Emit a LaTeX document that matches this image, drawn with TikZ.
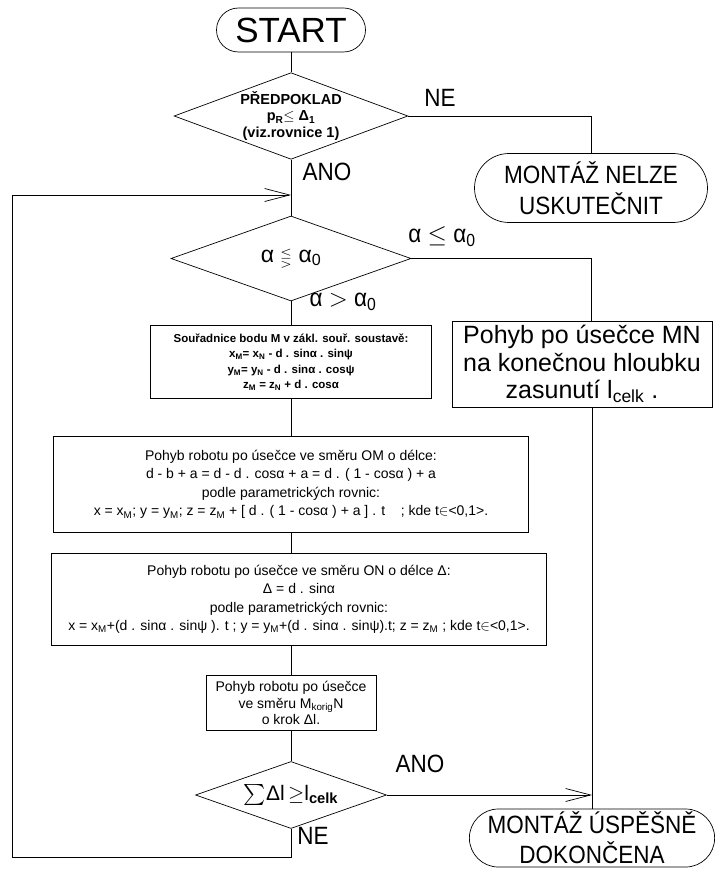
\documentclass[tikz,border=0pt]{standalone}
\usepackage{fontspec}
\setmainfont{Liberation Sans}
\newfontfamily\narrowfont[FakeStretch=0.9]{Liberation Sans}
\usepackage{amssymb}
\usetikzlibrary{shapes.geometric,shapes.misc,positioning,arrows.meta}
\newcommand{\fsz}[2]{\fontsize{#1}{#2}\selectfont}

\begin{document}
\begin{tikzpicture}[x=1pt,y=-1pt,line width=0.7pt,
		term/.style={draw,rounded rectangle,align=center,inner sep=2pt},
		test/.style={draw,diamond,aspect=2.7,inner sep=0pt,align=center},
		box/.style={draw,rectangle,align=center,inner sep=3pt},
		lab/.style={font=\narrowfont\fsz{25}{27}},
		barb/.style={-{Straight Barb[length=25pt,width=13pt]}}]
	\useasboundingbox (0,0) rectangle (726,869);
	\node[term,minimum width=153pt,minimum height=44pt,font=\fsz{35}{38}] (start) at (291,30) {START};
	\node[test,minimum width=227pt,minimum height=85pt,font=\bfseries\fsz{14.5}{16.5}] (d1) [below=20pt of start] {PŘEDPOKLAD\\ p\textsubscript{R}$\leq$ Δ\textsubscript{1}\\ (viz.rovnice 1)};
	\node[test,minimum width=240pt,minimum height=85pt,font=\fsz{23}{26}] (d2) [below=56pt of d1] {α {\fsz{15}{15}$\lesseqgtr$} α\textsubscript{0}};
	\node[box,minimum width=281pt,minimum height=73pt,font=\bfseries\fsz{11.5}{15.5}] (souradnice) [below=24pt of d2] {Souřadnice bodu M v zákl. souř. soustavě:\\
		x\textsubscript{M}= x\textsubscript{N} - d . sinα . sinψ\\
		y\textsubscript{M}= y\textsubscript{N} - d . sinα . cosψ\\
		z\textsubscript{M} = z\textsubscript{N} + d . cosα};
	\node[box,minimum width=475pt,minimum height=96pt,font=\fsz{14}{18.5}] (pohybOM) [below=37pt of souradnice] {Pohyb robotu po úsečce ve směru OM o délce:\\
		d - b + a = d - d . cosα + a = d . ( 1 - cosα ) + a\\
		podle parametrických rovnic:\\
		x = x\textsubscript{M}; y = y\textsubscript{M}; z = z\textsubscript{M} + [ d . ( 1 - cosα ) + a ] . t \ \ \ ; kde t$\in$<0,1>.};
	\node[box,minimum width=495pt,minimum height=92pt,font=\fsz{14}{18.5},xshift=8pt] (pohybON) [below=20pt of pohybOM] {Pohyb robotu po úsečce ve směru ON o délce Δ:\\
		Δ = d . sinα\\
		podle parametrických rovnic:\\
		x = x\textsubscript{M}+(d . sinα . sinψ ). t ; y = y\textsubscript{M}+(d . sinα . sinψ).t; z = z\textsubscript{M} ; kde t$\in$<0,1>.};
	\node[box,minimum width=170pt,minimum height=55pt,font=\fsz{14}{16.5}] (krok) [below=30pt of pohybON.south -| pohybOM.south] {Pohyb robotu po úsečce\\ ve směru M\textsubscript{korig}N\\ o krok Δl.};
	\node[test,minimum width=191pt,minimum height=67pt,font=\fsz{21}{24}] (d3) [below=30pt of krok] {$\sum$Δl$\,\geq$l\textsubscript{\bfseries celk}};
	\node[term,minimum width=237pt,minimum height=69pt,font=\narrowfont\fsz{25}{31}] (nelze) at (591,188) {MONTÁŽ NELZE\\USKUTEČNIT};
	\node[box,minimum width=260pt,minimum height=86pt,font=\fsz{25}{27.5}] (pohybMN) at (582,364) {Pohyb po úsečce MN\\ na konečnou hloubku\\ zasunutí l\textsubscript{celk} .};
	\node[term,minimum width=245pt,minimum height=58pt,font=\narrowfont\fsz{25}{30}] (uspesne) at (592,838) {MONTÁŽ ÚSPĚŠNĚ\\DOKONČENA};
	\node[lab] (ne1) at (440,98) {NE};
	\node[lab] (ano1) at (327,172) {ANO};
	\node[lab] (le) at (442,237) {α $\leq$ α\textsubscript{0}};
	\node[lab] (gt) at (343,302) {α $>$ α\textsubscript{0}};
	\node[lab] (ano2) at (420,764) {ANO};
	\node[lab] (ne2) at (313,836) {NE};
	\coordinate (loopT) at (12,195);
	\coordinate (loopB) at (12,857);

	\draw 	(start.south) -- (d1.north)
			(d1.east) -| (nelze.north)
			(d1.south) -- (d2.north)
			(d2.east) -| (pohybMN.north -| nelze.south)
			(d2.south) -- (souradnice.north)
			(souradnice.south) -- (pohybOM.north)
			(pohybOM.south) -- (pohybOM.south |- pohybON.north)
			(pohybON.south -| krok.north) -- (krok.north)
			(krok.south) -- (d3.north)
			(pohybMN.south -| uspesne.north) -- (uspesne.north)
			(d3.south) |- (loopB) -- (loopT);
	\draw[barb] (loopT) -- (loopT -| d1.south);
	\draw[barb] (d3.east) -- (d3.east -| uspesne.north);
\end{tikzpicture}
\end{document}
